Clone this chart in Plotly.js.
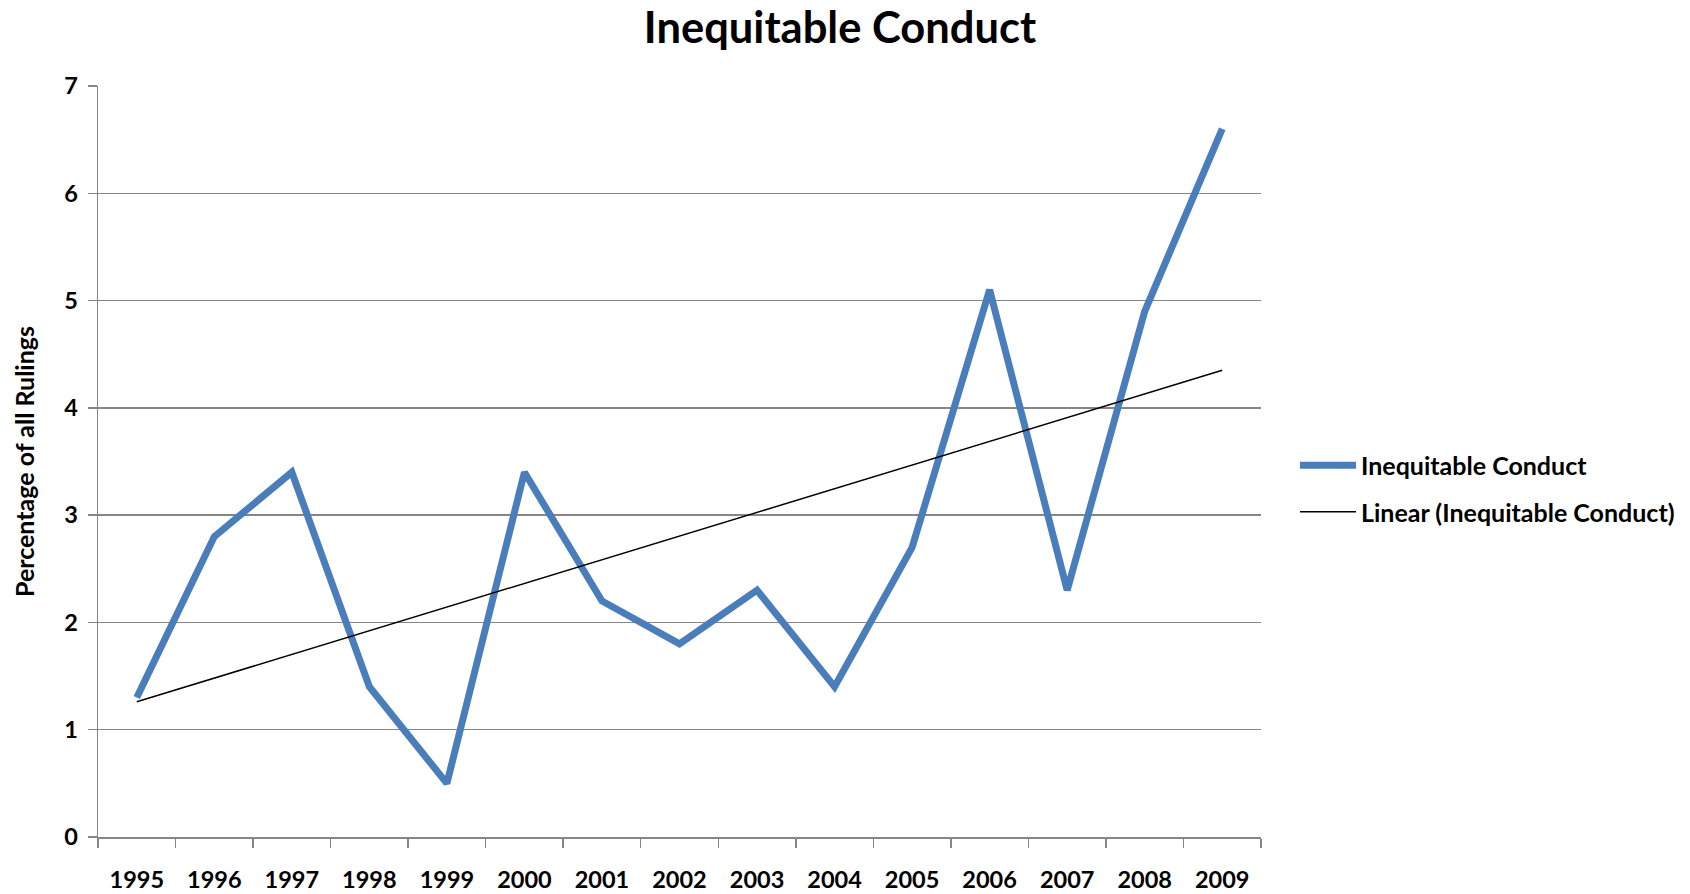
<!DOCTYPE html>
<html>
<head>
<meta charset="utf-8">
<script src="https://cdn.plot.ly/plotly-3.0.1.min.js"></script>
<style>html,body{margin:0;padding:0;background:#fff;}#chart{width:1690px;height:894px;}</style>
</head>
<body>
<div id="chart"></div>
<script>
const years = ["1995","1996","1997","1998","1999","2000","2001","2002","2003","2004","2005","2006","2007","2008","2009"];
const values = [1.3, 2.8, 3.4, 1.4, 0.5, 3.4, 2.2, 1.8, 2.3, 1.4, 2.7, 5.1, 2.3, 4.9, 6.6];
const trendYears = ["1995", "2009"];
const trendValues = [1.26, 4.35];
const yTicks = [0, 1, 2, 3, 4, 5, 6, 7];

const FONT = "Lato, 'Open Sans', sans-serif";

const traces = [
  {
    x: years, y: values, type: "scatter", mode: "lines",
    name: "Inequitable Conduct", legendgroup: "a",
    line: {color: "#4a7ebb", width: 7}
  },
  {
    x: trendYears, y: trendValues, type: "scatter", mode: "lines",
    name: "Linear (Inequitable Conduct)", legendgroup: "b",
    line: {color: "#000000", width: 1.5}
  }
];

const layout = {
  width: 1690, height: 894,
  paper_bgcolor: "#ffffff", plot_bgcolor: "#ffffff",
  margin: {l: 98, r: 429, t: 86, b: 57, autoexpand: false},
  font: {family: FONT, color: "#000000"},
  title: {
    text: "<b>Inequitable Conduct</b>",
    font: {family: FONT, size: 43.5, color: "#000000"},
    x: 840 / 1690, xanchor: "center",
    y: 1 - 28 / 894, yanchor: "middle", yref: "container"
  },
  xaxis: {
    type: "category",
    categoryorder: "array", categoryarray: years,
    range: [-0.5, 14.5],
    tickson: "boundaries",
    ticks: "outside", ticklen: 9, tickwidth: 1.5, tickcolor: "#868686",
    showline: true, linecolor: "#868686", linewidth: 1.5,
    showgrid: false, zeroline: false,
    tickfont: {family: FONT, size: 23.5, color: "#000000", weight: "bold"},
    ticklabelstandoff: 21,
    fixedrange: true
  },
  yaxis: {
    range: [0, 7],
    tickvals: yTicks,
    ticktext: yTicks.map(String),
    ticks: "outside", ticklen: 9, tickwidth: 1.5, tickcolor: "#868686",
    showline: true, linecolor: "#868686", linewidth: 1.5,
    showgrid: true, gridcolor: "#868686", gridwidth: 1.5,
    zeroline: false,
    tickfont: {family: FONT, size: 23.5, color: "#000000", weight: "bold"},
    ticklabelstandoff: 5,
    title: {
      text: "<b>Percentage of all Rulings</b>",
      font: {family: FONT, size: 25, color: "#000000"},
      standoff: 22
    },
    fixedrange: true
  },
  showlegend: true,
  legend: {
    x: (1295 - 98) / 1163, xanchor: "left",
    y: 0.464, yanchor: "middle",
    traceorder: "grouped",
    tracegroupgap: 11,
    itemwidth: 56,
    font: {family: FONT, size: 25, color: "#000000", weight: "bold"},
    bgcolor: "rgba(0,0,0,0)"
  }
};

Plotly.newPlot("chart", traces, layout, {displayModeBar: false, staticPlot: true});
</script>
</body>
</html>
